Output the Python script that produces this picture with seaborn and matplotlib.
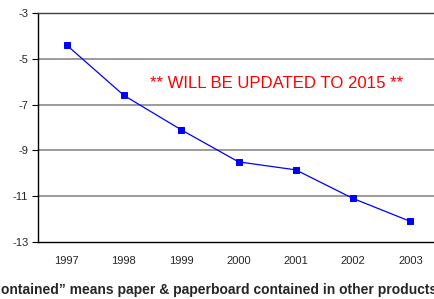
"""
Paper & paperboard contained in other products - recreated chart
"""
import matplotlib
matplotlib.use('Agg')
import matplotlib.pyplot as plt
import seaborn as sns
import pandas as pd
import numpy as np

years = ['1997', '1998', '1999', '2000', '2001', '2002', '2003']
values = [-4.4, -6.6, -8.1, -9.5, -9.85, -11.1, -12.1]
y_ticks = [-13, -11, -9, -7, -5, -3]

sns.set_style('white')
plt.rcParams['font.family'] = ['Liberation Sans', 'DejaVu Sans']

df = pd.DataFrame({'year': years, 'value': values})

fig = plt.figure(figsize=(4.34, 2.99), dpi=100)
ax = fig.add_axes([38 / 434, 1 - 242 / 299, 401 / 434, 229 / 299])

sns.lineplot(data=df, x='year', y='value', ax=ax, color='#0000ff',
             marker='s', markersize=5, markeredgecolor='#0000ff',
             linewidth=0.9, sort=False)

ax.set_xlim(-0.5, len(years) - 0.5)
ax.set_ylim(-13, -3)
ax.set_yticks(y_ticks)
ax.set_yticklabels([str(t) for t in y_ticks], fontsize=8)
ax.set_xticks(np.arange(len(years)))
ax.set_xticklabels(years, fontsize=8)
ax.set_xticks(np.arange(-0.5, len(years)), minor=True)
ax.tick_params(axis='x', which='major', length=0, pad=10)
ax.tick_params(axis='x', which='minor', length=4, width=0.8, direction='out', color='black')
ax.tick_params(axis='y', length=4, width=0.8, direction='out', color='black', pad=3,
               left=True)
ax.set_xlabel('')
ax.set_ylabel('')

# horizontal gridlines
for t in y_ticks[1:-1]:
    ax.axhline(t, color='#808080', linewidth=1.1, zorder=0)

for side in ['left', 'bottom', 'top']:
    ax.spines[side].set_visible(True)
    ax.spines[side].set_color('black')
    ax.spines[side].set_linewidth(1.0)
ax.spines['top'].set_color('#404040')
ax.spines['right'].set_visible(False)

ax.text(0.594, 0.694, '** WILL BE UPDATED TO 2015 **', transform=ax.transAxes,
        color='#ff0000', fontsize=12.1, ha='center', va='center')

fig.text(1 / 434, 1 - 290 / 299,
         'ontained\u201d means paper & paperboard contained in other products',
         fontsize=10, fontweight='bold', ha='left', va='center')

plt.savefig('out.png', dpi=100)
plt.close()
